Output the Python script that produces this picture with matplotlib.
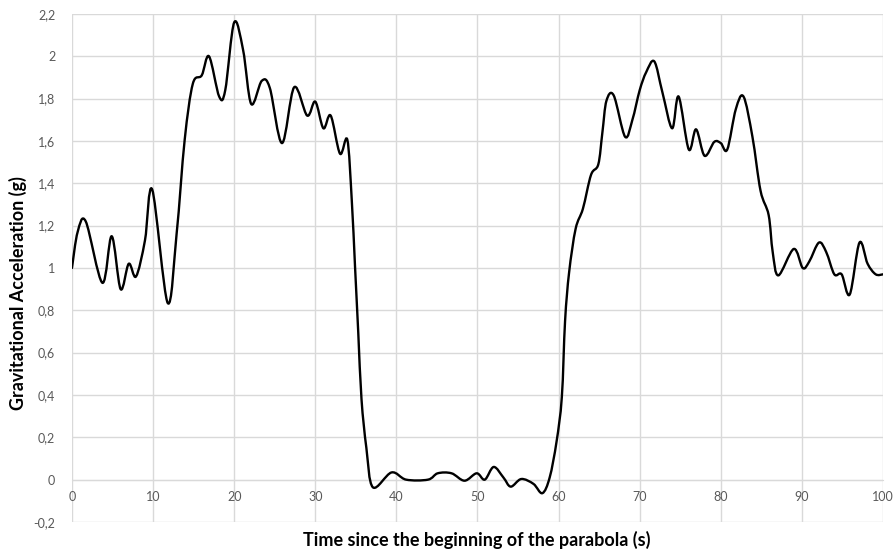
import matplotlib.pyplot as plt
from matplotlib.path import Path
from matplotlib.patches import PathPatch
from matplotlib.ticker import FuncFormatter

# values
time_s = [0, 0.7, 1.7, 3.75, 4.9, 6.0, 7.0, 7.9, 9.0, 9.9, 11.8, 12.9, 13.9,
          14.9, 16.0, 16.9, 18.15, 18.9, 20.0, 21.1, 22.1, 23.4, 24.4, 25.9,
          27.4, 29.0, 30.0, 31.0, 31.9, 33.05, 33.95, 34.5, 34.9, 35.3, 35.7,
          36.3, 37.1, 39.4, 41.2, 43.9, 45.1, 46.8, 48.4, 49.9, 50.9, 52.0,
          53.2, 54.1, 55.4, 56.9, 58.0, 58.9, 59.75, 60.4, 60.8, 61.3, 62.1,
          63.0, 64.0, 64.9, 65.4, 65.9, 66.8, 68.2, 69.1, 70.0, 70.8, 71.8,
          72.8, 74.0, 74.8, 76.05, 76.95, 78.0, 79.2, 80.0, 80.8, 81.85, 82.8,
          83.9, 84.9, 85.9, 86.4, 87.1, 89.0, 90.1, 90.9, 92.1, 93.0, 94.0,
          94.9, 95.9, 97.1, 98.1, 99.1, 100]
accel_g = [1.0, 1.17, 1.22, 0.93, 1.15, 0.90, 1.02, 0.96, 1.13, 1.37, 0.835,
           1.16, 1.606, 1.87, 1.91, 2.0, 1.81, 1.84, 2.16, 2.03, 1.775, 1.884,
           1.85, 1.59, 1.854, 1.72, 1.786, 1.66, 1.72, 1.54, 1.606, 1.32,
           1.008, 0.695, 0.38, 0.15, -0.036, 0.034, 0.0, 0.0, 0.03, 0.03,
           -0.005, 0.03, 0.0, 0.06, 0.01, -0.033, 0.003, -0.02, -0.064, 0.01,
           0.18, 0.39, 0.75, 0.98, 1.185, 1.28, 1.44, 1.49, 1.64, 1.79, 1.815,
           1.62, 1.70, 1.84, 1.925, 1.976, 1.83, 1.66, 1.81, 1.56, 1.655,
           1.53, 1.596, 1.59, 1.56, 1.75, 1.81, 1.62, 1.365, 1.25, 1.075,
           0.965, 1.09, 1.0, 1.03, 1.12, 1.075, 0.97, 0.97, 0.875, 1.12, 1.02,
           0.97, 0.97]


def smooth_path(xs, ys):
    # Excel-like smoothed line: Catmull-Rom segments as cubic Beziers
    pts = list(zip(xs, ys))
    verts = [pts[0]]
    codes = [Path.MOVETO]
    n = len(pts)
    for i in range(n - 1):
        p0 = pts[i - 1] if i > 0 else pts[i]
        p1 = pts[i]
        p2 = pts[i + 1]
        p3 = pts[i + 2] if i + 2 < n else pts[i + 1]
        c1 = (p1[0] + (p2[0] - p0[0]) / 6, p1[1] + (p2[1] - p0[1]) / 6)
        c2 = (p2[0] - (p3[0] - p1[0]) / 6, p2[1] - (p3[1] - p1[1]) / 6)
        verts += [c1, c2, p2]
        codes += [Path.CURVE4] * 3
    return Path(verts, codes)


plt.rcParams['font.family'] = ['Lato', 'DejaVu Sans']

fig = plt.figure(figsize=(8.95, 5.53), dpi=100)
ax = fig.add_axes([0.0804, 0.0561, 0.9062, 0.9186])

ax.add_patch(PathPatch(smooth_path(time_s, accel_g), facecolor='none',
                       edgecolor='black', linewidth=1.7, capstyle='round',
                       joinstyle='round', zorder=3))

ax.set_xlim(0, 100)
ax.set_ylim(-0.2, 2.2)
ax.set_xticks(range(0, 101, 10))
ax.set_yticks([i / 10 for i in range(-2, 23, 2)])


def comma(v, pos):
    s = ('%.1f' % v).rstrip('0').rstrip('.')
    return s.replace('.', ',')


ax.yaxis.set_major_formatter(FuncFormatter(comma))
ax.grid(True, color='#d9d9d9', linewidth=1)
ax.set_axisbelow(True)

for side in ['top', 'right', 'left']:
    ax.spines[side].set_visible(False)
ax.spines['bottom'].set_position(('data', 0))
ax.spines['bottom'].set_color('#d9d9d9')

ax.tick_params(axis='both', length=0, labelsize=9, labelcolor='#595959')
ax.tick_params(axis='x', pad=8)
ax.tick_params(axis='y', pad=12)

fig.text(0.0201, 0.47, 'Gravitational Acceleration (g)', rotation=90,
         ha='center', va='center', fontsize=13, fontweight='bold')
fig.text(0.533, 0.024, 'Time since the beginning of the parabola (s)',
         ha='center', va='center', fontsize=13, fontweight='bold')

fig.savefig('out.png', dpi=100)
